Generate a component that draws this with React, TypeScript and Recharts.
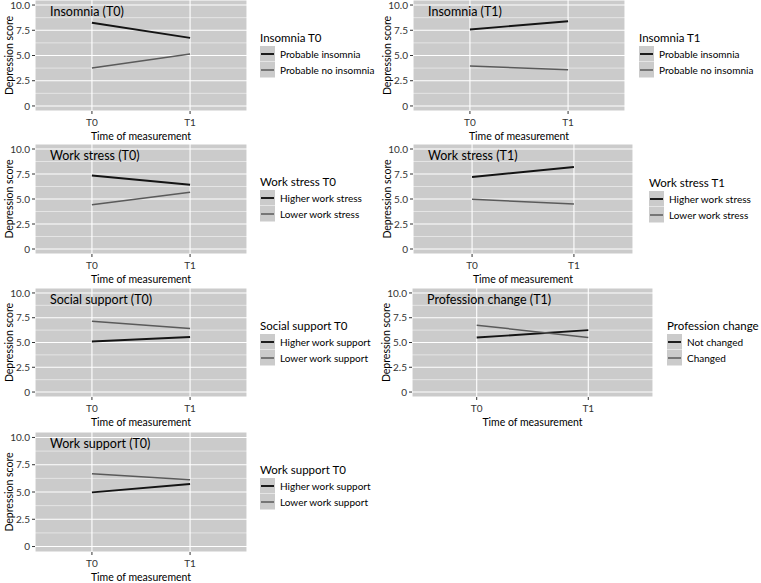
import React from "react";
import { LineChart, Line, XAxis, YAxis, CartesianGrid, ReferenceLine } from "recharts";

// x categories and y ticks shared by every panel
const times = ["T0", "T1"];
const yTicks = [0, 2.5, 5, 7.5, 10];
const minorTicks = [1.25, 3.75, 6.25, 8.75];

// depression score at T0 / T1 per group
const insomniaT0Yes = [8.25, 6.75];
const insomniaT0No = [3.75, 5.15];
const insomniaT1Yes = [7.57, 8.4];
const insomniaT1No = [3.97, 3.58];
const workStressT0High = [7.35, 6.42];
const workStressT0Low = [4.42, 5.67];
const workStressT1High = [7.2, 8.2];
const workStressT1Low = [4.97, 4.5];
const socialSupportT0High = [5.1, 5.55];
const socialSupportT0Low = [7.15, 6.42];
const professionNotChanged = [5.5, 6.25];
const professionChanged = [6.75, 5.5];
const workSupportT0High = [4.97, 5.73];
const workSupportT0Low = [6.67, 6.12];

const FONT = "Lato, 'Open Sans', sans-serif";
const BG = "#cbcbcb";
const DARK = "#141414";
const GREY = "#5a5a5a";

const panels = [
  { title: "Insomnia (T0)", legend: "Insomnia T0", labels: ["Probable insomnia", "Probable no insomnia"], a: insomniaT0Yes, b: insomniaT0No, left: 35, top: 0, w: 212, h: 111, lx: 260, ly: 38 },
  { title: "Insomnia (T1)", legend: "Insomnia T1", labels: ["Probable insomnia", "Probable no insomnia"], a: insomniaT1Yes, b: insomniaT1No, left: 413, top: 0, w: 212, h: 111, lx: 639, ly: 38 },
  { title: "Work stress (T0)", legend: "Work stress T0", labels: ["Higher work stress", "Lower work stress"], a: workStressT0High, b: workStressT0Low, left: 35, top: 144, w: 212, h: 110, lx: 260, ly: 182 },
  { title: "Work stress (T1)", legend: "Work stress T1", labels: ["Higher work stress", "Lower work stress"], a: workStressT1High, b: workStressT1Low, left: 413, top: 144, w: 220, h: 110, lx: 649, ly: 183 },
  { title: "Social support (T0)", legend: "Social support T0", labels: ["Higher work support", "Lower work support"], a: socialSupportT0High, b: socialSupportT0Low, left: 35, top: 288, w: 212, h: 109, lx: 260, ly: 326 },
  { title: "Profession change (T1)", legend: "Profession change", labels: ["Not changed", "Changed"], a: professionNotChanged, b: professionChanged, left: 412, top: 288, w: 241, h: 109, lx: 667, ly: 326 },
  { title: "Work support (T0)", legend: "Work support T0", labels: ["Higher work support", "Lower work support"], a: workSupportT0High, b: workSupportT0Low, left: 35, top: 432, w: 212, h: 120, lx: 260, ly: 470 },
];

const YTitle = (props: any) => {
  const vb = props.viewBox || {};
  const cy = vb.y + vb.height / 2;
  return (
    <text x={9} y={cy} transform={`rotate(-90, 9, ${cy})`} textAnchor="middle" dominantBaseline="central" fontSize={10.5} fill="#000" fontFamily={FONT}>
      Depression score
    </text>
  );
};

function Panel({ p }: { p: any }) {
  const data = times.map((t, i) => ({ x: i + 1, a: p.a[i], b: p.b[i] }));
  const padTop = 8;
  return (
    <>
      <div style={{ position: "absolute", left: p.left - 35, top: p.top - padTop }}>
        <LineChart width={35 + p.w + 4} height={padTop + p.h + 30} data={data} margin={{ top: padTop, right: 4, left: 0, bottom: 0 }}>
          <CartesianGrid fill={BG} fillOpacity={1} stroke="#ffffff" strokeWidth={1.1} />
          {minorTicks.map((v) => (
            <ReferenceLine key={v} y={v} stroke="#ffffff" strokeWidth={0.5} />
          ))}
          <XAxis
            type="number"
            dataKey="x"
            domain={[0.42, 2.58]}
            ticks={[1, 2]}
            tickFormatter={(v) => times[v - 1]}
            height={30}
            axisLine={false}
            tickSize={3}
            tickMargin={5}
            tickLine={{ stroke: "#333" }}
            tick={{ fontSize: 10, fill: "#333", fontFamily: FONT }}
            label={{ value: "Time of measurement", position: "insideBottom", offset: 1, fontSize: 10.5, fill: "#000", fontFamily: FONT }}
          />
          <YAxis
            type="number"
            domain={[-0.5, 10.5]}
            ticks={yTicks}
            tickFormatter={(v) => (v === 0 ? "0" : v.toFixed(1))}
            width={35}
            axisLine={false}
            tickSize={3}
            tickLine={{ stroke: "#333" }}
            tick={{ fontSize: 10, fill: "#333", fontFamily: FONT }}
            label={(props: any) => <YTitle {...props} />}
          />
          <Line type="linear" dataKey="a" stroke={DARK} strokeWidth={1.9} dot={false} isAnimationActive={false} />
          <Line type="linear" dataKey="b" stroke={GREY} strokeWidth={1.5} dot={false} isAnimationActive={false} />
        </LineChart>
      </div>
      <div style={{ position: "absolute", left: p.left + 15, top: p.top + 4, fontSize: 12.5, fontFamily: FONT, color: "#000", lineHeight: "16px", whiteSpace: "nowrap" }}>
        {p.title}
      </div>
      <div style={{ position: "absolute", left: p.lx, top: p.ly - 8, fontFamily: FONT, color: "#000", whiteSpace: "nowrap" }}>
        <div style={{ fontSize: 11.5, lineHeight: "16px" }}>{p.legend}</div>
        {p.labels.map((lab: string, i: number) => (
          <div key={lab} style={{ display: "flex", alignItems: "center", height: 16 }}>
            <svg width={15} height={16} style={{ display: "block" }}>
              <rect x={0} y={0} width={15} height={15.5} fill={BG} />
              <line x1={1} x2={14} y1={8} y2={8} stroke={i === 0 ? DARK : GREY} strokeWidth={i === 0 ? 1.9 : 1.5} />
            </svg>
            <span style={{ fontSize: 10, marginLeft: 5 }}>{lab}</span>
          </div>
        ))}
      </div>
    </>
  );
}

export default function App() {
  return (
    <div style={{ position: "absolute", left: 0, top: 0, width: 761, height: 583, background: "#fff", overflow: "hidden" }}>
      {panels.map((p) => (
        <Panel key={p.title} p={p} />
      ))}
    </div>
  );
}
